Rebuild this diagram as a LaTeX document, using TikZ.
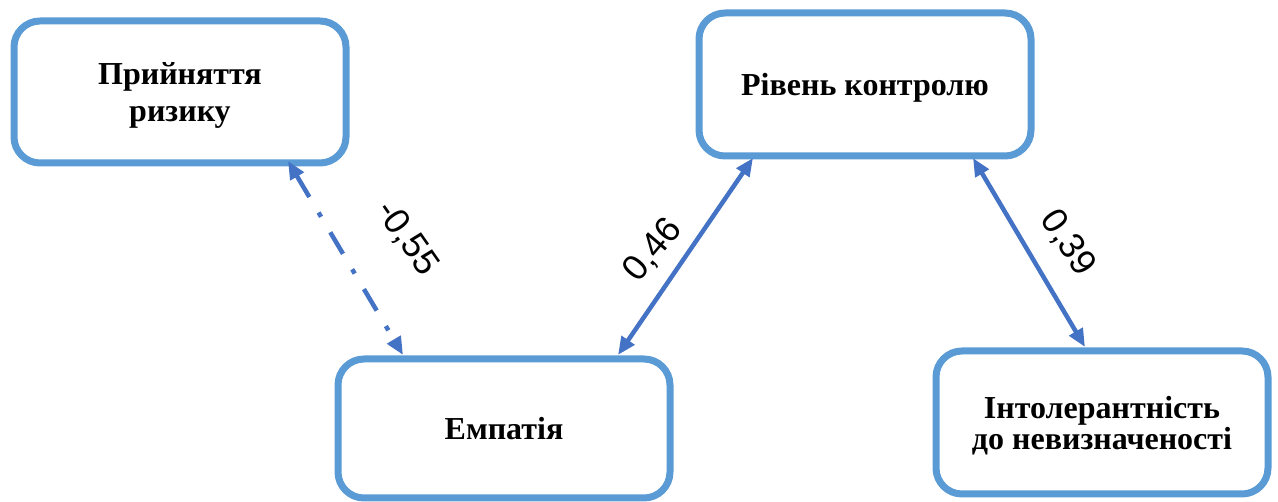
\documentclass[tikz,border=0pt]{standalone}
\usepackage{fontspec}
\setmainfont{Liberation Serif}
\newfontfamily\labfont{Liberation Sans}
\usetikzlibrary{arrows.meta}
\definecolor{boxblue}{HTML}{5B9BD5}
\definecolor{arrblue}{HTML}{4472C4}
\tikzset{
  box/.style={draw=boxblue, line width=7pt, rounded corners=26pt, fill=white,
    minimum width=332pt, align=center, outer sep=0pt, text depth=0pt,
    font=\fontsize{32}{37}\selectfont\bfseries},
  link/.style={draw=arrblue, line width=4.5pt,
    {Triangle[length=18pt,width=15pt]}-{Triangle[length=18pt,width=15pt]}},
  dashdotline/.style={dash pattern=on 25pt off 18pt on 5pt off 18pt},
  lab/.style={font=\labfont\fontsize{36}{36}\selectfont, inner sep=0pt}
}
\begin{document}
\begin{tikzpicture}[x=1pt,y=-1pt]
\useasboundingbox (0,0) rectangle (1278,502);
\node[box, minimum height=142pt] (b1) at (180,92) {Прийняття\\ризику};
\node[box, minimum height=143pt] (b2) at (865,84.5) {Рівень контролю};
\node[box, minimum height=139pt] (b3) at (504,428.5) {Емпатія};
\node[box, minimum height=143pt, font=\fontsize{32}{31}\selectfont\bfseries] (b4) at (1102,422.5) {Інтолерантність\\до невизначеності};
\draw[link, dashdotline] ([xshift=108pt,yshift=2pt]b1.south) -- ([xshift=-101pt,yshift=4pt]b3.north);
\draw[link] ([xshift=-112pt,yshift=-2pt]b2.south) -- ([xshift=114pt,yshift=4pt]b3.north);
\draw[link] ([xshift=108pt,yshift=-2pt]b2.south) -- ([xshift=-17pt,yshift=4pt]b4.north);
\node[lab, rotate=-55] (l1) at (407,238) {-0,55};
\node[lab, rotate=50] (l2) at (653,250) {0,46};
\node[lab, rotate=-56] (l3) at (1068,243) {0,39};
\end{tikzpicture}
\end{document}
